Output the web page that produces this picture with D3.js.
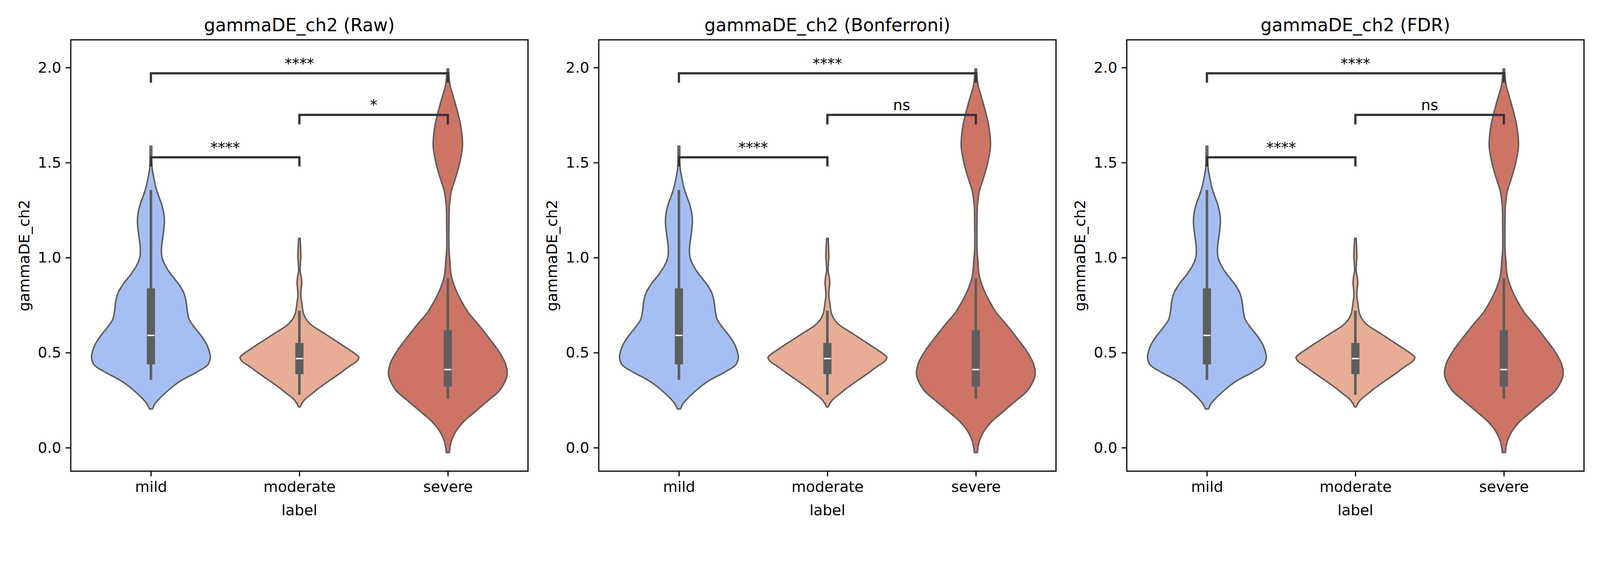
<!DOCTYPE html>
<html>
<head>
<meta charset="utf-8">
<script src="https://cdnjs.cloudflare.com/ajax/libs/d3/7.8.5/d3.min.js"></script>
<style>
  html, body { margin: 0; padding: 0; background: #fff; overflow: hidden; }
  svg { display: block; width: 100vw; height: 100vh; }
  text { font-family: "DejaVu Sans", sans-serif; }
</style>
</head>
<body>
<div id="chart"></div>
<script>
// ---- data ----
var categories = ["mild", "moderate", "severe"];
var panelTitles = ["gammaDE_ch2 (Raw)", "gammaDE_ch2 (Bonferroni)", "gammaDE_ch2 (FDR)"];
var fillColors = ["#a6bff2", "#e8ad95", "#cd7465"];
var yTicks = [0.0, 0.5, 1.0, 1.5, 2.0];

// violin outlines: value along y, relative half width (1 = widest)
var mildY = [1.586, 1.474, 1.419, 1.363, 1.326, 1.280, 1.233, 1.187, 1.122, 1.048, 1.002, 0.955, 0.909, 0.862, 0.816,
  0.770, 0.723, 0.677, 0.630, 0.584, 0.538, 0.491, 0.473, 0.436, 0.399, 0.352, 0.306, 0.260, 0.232, 0.204];
var mildW = [0.015, 0.020, 0.049, 0.089, 0.128, 0.181, 0.217, 0.227, 0.207, 0.178, 0.187, 0.247, 0.345, 0.464, 0.552,
  0.592, 0.611, 0.641, 0.740, 0.858, 0.947, 0.996, 1.000, 0.957, 0.779, 0.503, 0.306, 0.148, 0.069, 0.025];

var moderateY = [1.102, 1.079, 1.028, 0.996, 0.964, 0.932, 0.899, 0.867, 0.835, 0.803, 0.771, 0.739, 0.706, 0.674, 0.642,
  0.610, 0.578, 0.546, 0.513, 0.494, 0.475, 0.456, 0.430, 0.385, 0.353, 0.320, 0.288, 0.256, 0.237, 0.214];
var moderateW = [0.012, 0.016, 0.024, 0.024, 0.016, 0.012, 0.030, 0.040, 0.030, 0.024, 0.036, 0.050, 0.069, 0.119, 0.218,
  0.376, 0.535, 0.693, 0.851, 0.941, 1.000, 0.970, 0.851, 0.653, 0.505, 0.356, 0.228, 0.099, 0.050, 0.012];

var severeY = [1.993, 1.906, 1.840, 1.773, 1.694, 1.590, 1.508, 1.428, 1.349, 1.269, 1.176, 1.109, 1.043, 0.977, 0.910,
  0.844, 0.778, 0.711, 0.645, 0.578, 0.512, 0.446, 0.393, 0.366, 0.300, 0.246, 0.193, 0.140, 0.087, 0.034, -0.026];
var severeW = [0.012, 0.039, 0.099, 0.158, 0.217, 0.247, 0.207, 0.138, 0.059, 0.026, 0.020, 0.018, 0.020, 0.036, 0.055,
  0.118, 0.217, 0.345, 0.523, 0.690, 0.848, 0.966, 1.000, 0.986, 0.868, 0.671, 0.473, 0.276, 0.138, 0.059, 0.024];

// inner box: [whisker low, q1, median, q3, whisker high]
var mildBox = [0.357, 0.438, 0.591, 0.838, 1.356];
var moderateBox = [0.278, 0.387, 0.469, 0.551, 0.721];
var severeBox = [0.257, 0.322, 0.411, 0.618, 0.891];

// significance brackets: pair of category indexes, base and top of bracket
var pairs = [[0, 1], [1, 2], [0, 2]];
var bracketBase = [1.480, 1.701, 1.921];
var bracketTop = [1.528, 1.751, 1.970];
var panelStars = [
  ["****", "*", "****"],
  ["****", "ns", "****"],
  ["****", "ns", "****"]
];

var violins = [
  {y: mildY, w: mildW, box: mildBox},
  {y: moderateY, w: moderateW, box: moderateBox},
  {y: severeY, w: severeW, box: severeBox}
];

// ---- layout ----
var W = 4500, H = 1500;
var panelLeft = [199, 1684, 3169];
var panelW = 1286, plotTop = 112, plotBottom = 1325;
var fs = 41.67;

// scale the 4500x1500 drawing to the window width, pinned to the top
var svg = d3.select("#chart").append("svg")
  .attr("viewBox", "0 0 " + W + " " + H)
  .attr("preserveAspectRatio", "xMidYMin meet");
svg.append("rect").attr("width", W).attr("height", H).attr("fill", "#fff");

var y = d3.scaleLinear().domain([-0.1235, 2.146]).range([plotBottom, plotTop]);

panelTitles.forEach(function(title, p) {
  var x = d3.scaleLinear().domain([-0.54, 2.54]).range([0, panelW]);
  var g = svg.append("g").attr("transform", "translate(" + panelLeft[p] + ",0)");

  var unit = x(1) - x(0);
  var halfMax = 0.4 * unit;

  // violins
  violins.forEach(function(v, i) {
    var pts = v.y.map(function(d, k) { return {v: d, w: v.w[k]}; });
    var cx = x(i);
    var area = d3.area()
      .y(function(d) { return y(d.v); })
      .x0(function(d) { return cx - d.w * halfMax; })
      .x1(function(d) { return cx + d.w * halfMax; })
      .curve(d3.curveCatmullRom.alpha(0.5));
    g.append("path")
      .attr("d", area(pts))
      .attr("fill", fillColors[i])
      .attr("stroke", "#5e5e5e")
      .attr("stroke-width", 4.2)
      .attr("stroke-linejoin", "round");

    var b = v.box;
    g.append("line")
      .attr("x1", cx).attr("x2", cx)
      .attr("y1", y(b[0])).attr("y2", y(b[4]))
      .attr("stroke", "#5e5e5e").attr("stroke-width", 7.3);
    g.append("rect")
      .attr("x", cx - 11.5).attr("width", 23)
      .attr("y", y(b[3])).attr("height", y(b[1]) - y(b[3]))
      .attr("fill", "#5e5e5e");
    g.append("line")
      .attr("x1", cx - 10).attr("x2", cx + 10)
      .attr("y1", y(b[2])).attr("y2", y(b[2]))
      .attr("stroke", "#fff").attr("stroke-width", 4);
  });

  // brackets
  pairs.forEach(function(pr, k) {
    var x1 = x(pr[0]), x2 = x(pr[1]);
    var yb = y(bracketBase[k]), yt = y(bracketTop[k]);
    g.append("path")
      .attr("d", "M" + x1 + "," + yb + "L" + x1 + "," + yt + "L" + x2 + "," + yt + "L" + x2 + "," + yb)
      .attr("fill", "none")
      .attr("stroke", "#333333")
      .attr("stroke-width", 6.25);
    g.append("text")
      .attr("x", (x1 + x2) / 2).attr("y", yt - 13)
      .attr("text-anchor", "middle")
      .attr("font-size", fs)
      .attr("fill", "#000")
      .text(panelStars[p][k]);
  });

  // axes
  var yAxis = d3.axisLeft(y).tickValues(yTicks).tickFormat(d3.format(".1f"))
    .tickSize(14.6).tickPadding(12);
  var ya = g.append("g").call(yAxis);
  var xAxis = d3.axisBottom(x).tickValues([0, 1, 2])
    .tickFormat(function(d) { return categories[d]; })
    .tickSize(14.6).tickPadding(12);
  var xa = g.append("g").attr("transform", "translate(0," + plotBottom + ")").call(xAxis);

  [ya, xa].forEach(function(a) {
    a.select(".domain").remove();
    a.selectAll(".tick line").attr("stroke", "#000").attr("stroke-width", 3.3);
    a.selectAll(".tick text").attr("font-size", fs).attr("fill", "#000")
      .attr("font-family", "DejaVu Sans");
  });
  xa.selectAll(".tick text").attr("dy", "0.76em");

  // frame
  g.append("rect")
    .attr("x", 0).attr("y", plotTop)
    .attr("width", panelW).attr("height", plotBottom - plotTop)
    .attr("fill", "none").attr("stroke", "#000").attr("stroke-width", 3.3);

  // titles and labels
  g.append("text")
    .attr("x", panelW / 2).attr("y", 88)
    .attr("text-anchor", "middle")
    .attr("font-size", 50)
    .text(title);
  g.append("text")
    .attr("x", panelW / 2).attr("y", 1449)
    .attr("text-anchor", "middle")
    .attr("font-size", fs)
    .text("label");
  g.append("text")
    .attr("transform", "translate(" + (82 - 199) + "," + ((plotTop + plotBottom) / 2) + ") rotate(-90)")
    .attr("text-anchor", "middle")
    .attr("font-size", fs)
    .text("gammaDE_ch2");
});
</script>
</body>
</html>
